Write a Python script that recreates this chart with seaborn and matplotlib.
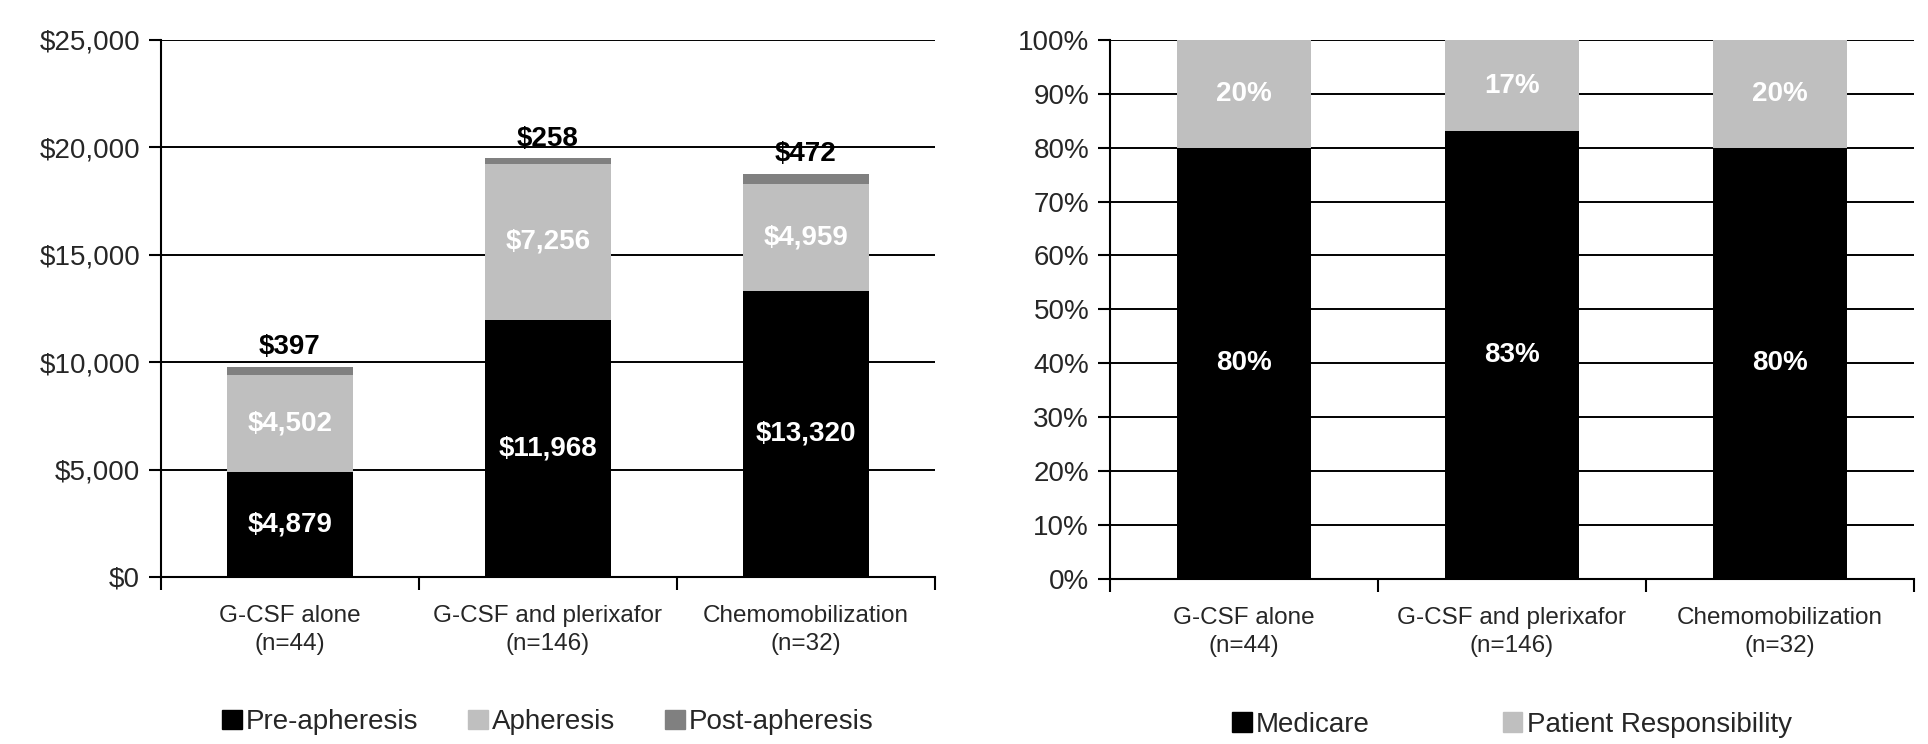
import matplotlib
matplotlib.use('Agg')
import matplotlib.pyplot as plt
import seaborn as sns
import pandas as pd
import numpy as np

groups = ['G-CSF alone\n(n=44)', 'G-CSF and plerixafor\n(n=146)', 'Chemomobilization\n(n=32)']
pre = [4879, 11968, 13320]
aph = [4502, 7256, 4959]
post = [397, 258, 472]
medicare = [80, 83, 80]
patient = [20, 17, 20]

sns.set_theme(style='white')
plt.rcParams['font.family'] = ['Liberation Sans', 'DejaVu Sans']

BLACK = '#000000'
LIGHT = '#bfbfbf'
DARK = '#808080'

fig = plt.figure(figsize=(19.28, 7.44), dpi=100)
ax1 = fig.add_axes([0.0835, 0.2245, 0.4014, 0.7218])
ax2 = fig.add_axes([0.5757, 0.2220, 0.4170, 0.7245])

# left: stacked costs, drawn as cumulative layers
df = pd.DataFrame({'group': groups, 'pre': pre, 'aph': aph, 'post': post})
df['c2'] = df['pre'] + df['aph']
df['c3'] = df['c2'] + df['post']
for col, c in [('c3', DARK), ('c2', LIGHT), ('pre', BLACK)]:
    sns.barplot(data=df, x='group', y=col, color=c, saturation=1, width=0.49,
                errorbar=None, ax=ax1, zorder=3, linewidth=0, edgecolor=c)

for i, r in df.iterrows():
    ax1.text(i, r['pre'] / 2, '${:,}'.format(r['pre']), ha='center', va='center',
             color='white', fontsize=20, fontweight='bold', zorder=5)
    ax1.text(i, r['pre'] + r['aph'] / 2, '${:,}'.format(r['aph']), ha='center', va='center',
             color='white', fontsize=20, fontweight='bold', zorder=5)
    ax1.annotate('${:,}'.format(r['post']), (i, r['c3']), xytext=(0, 5),
                 textcoords='offset points', ha='center', va='bottom',
                 color='black', fontsize=20, fontweight='bold', zorder=5)

ax1.set_ylim(0, 25000)
ax1.set_yticks(np.arange(0, 25001, 5000))
ax1.set_yticklabels(['${:,}'.format(v) for v in range(0, 25001, 5000)])

# right: payer share
df2 = pd.DataFrame({'group': groups, 'med': medicare, 'pat': patient})
df2['tot'] = df2['med'] + df2['pat']
for col, c in [('tot', LIGHT), ('med', BLACK)]:
    sns.barplot(data=df2, x='group', y=col, color=c, saturation=1, width=0.5,
                errorbar=None, ax=ax2, zorder=3, linewidth=0, edgecolor=c)
for i, r in df2.iterrows():
    ax2.text(i, r['med'] / 2, '{}%'.format(r['med']), ha='center', va='center',
             color='white', fontsize=20, fontweight='bold', zorder=5)
    ax2.text(i, r['med'] + r['pat'] / 2, '{}%'.format(r['pat']), ha='center', va='center',
             color='white', fontsize=20, fontweight='bold', zorder=5)
ax2.set_ylim(0, 100)
ax2.set_yticks(np.arange(0, 101, 10))
ax2.set_yticklabels(['{}%'.format(v) for v in range(0, 101, 10)])

for ax in (ax1, ax2):
    ax.set_xlim(-0.5, 2.5)
    ax.set_xlabel('')
    ax.set_ylabel('')
    ax.grid(axis='y', color='black', linewidth=1.4, zorder=0)
    ax.grid(axis='x', visible=False)
    ax.set_axisbelow(True)
    for s in ['top', 'right']:
        ax.spines[s].set_visible(False)
    for s in ['left', 'bottom']:
        ax.spines[s].set_color('black')
        ax.spines[s].set_linewidth(1.5)
        ax.spines[s].set_zorder(6)
    ax.set_xticks([0, 1, 2])
    ax.set_xticklabels(groups, fontsize=17.5, linespacing=1.35)
    ax.set_xticks([-0.5, 0.5, 1.5, 2.5], minor=True)
    ax.tick_params(axis='x', which='major', length=0, pad=20)
    ax.tick_params(axis='x', which='minor', length=9, width=1.5, color='black', direction='out', bottom=True)
    ax.tick_params(axis='y', length=9, width=1.5, color='black', direction='out', left=True,
                   labelsize=20, pad=6)

h1 = [plt.Rectangle((0, 0), 1, 1, color=c) for c in (BLACK, LIGHT, DARK)]
ax1.legend(h1, ['Pre-apheresis', 'Apheresis', 'Post-apheresis'], loc='upper center',
           bbox_to_anchor=(0.5, -0.2), ncol=3, frameon=False, fontsize=20,
           handlelength=0.7, handleheight=0.7, handletextpad=0.15, columnspacing=1.8)
h2 = [plt.Rectangle((0, 0), 1, 1, color=c) for c in (BLACK, LIGHT)]
ax2.legend(h2, ['Medicare', 'Patient Responsibility'], loc='upper center',
           bbox_to_anchor=(0.5, -0.2), ncol=2, frameon=False, fontsize=20,
           handlelength=0.7, handleheight=0.7, handletextpad=0.15, columnspacing=4.8)

fig.savefig('out.png', dpi=100, facecolor='white')
